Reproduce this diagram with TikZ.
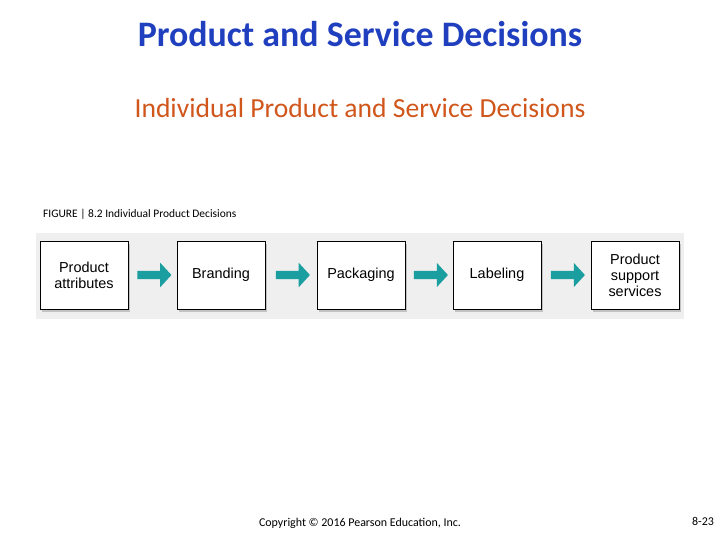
\documentclass[tikz,border=0pt]{standalone}
\usepackage{fontspec}
\setmainfont{Carlito}
\newfontfamily\boxfont{Liberation Sans}
\usetikzlibrary{shapes.arrows,shadows}
\definecolor{titleblue}{HTML}{1F3FBF}
\definecolor{suborange}{HTML}{D0561C}
\definecolor{arrowteal}{HTML}{1A9EA0}
\definecolor{panelgray}{HTML}{EFEFEF}
\begin{document}
\begin{tikzpicture}[x=1bp, y=-1bp, every node/.style={align=center}]
    \tikzstyle{stage}=[rectangle, draw, fill=white, minimum width=88bp, minimum height=68bp, font=\boxfont\fontsize{14.5}{16}\selectfont, drop shadow={shadow xshift=2bp, shadow yshift=-3bp, opacity=0.4}];
    \tikzstyle{flow}=[single arrow, fill=arrowteal, draw=none, minimum height=34bp, inner sep=4bp, single arrow head extend=8bp, single arrow tip angle=95];
    \useasboundingbox (0,0) rectangle (720,540);
    \node[font=\bfseries\fontsize{36}{42}\selectfont, text=titleblue] (title) at (360,34) {Product and Service Decisions};
    \node[font=\fontsize{27.7}{32}\selectfont, text=suborange] (subtitle) at (360,108) {Individual Product and Service Decisions};
    \node[anchor=west, font=\fontsize{11.5}{13}\selectfont, inner sep=0pt] (caption) at (43,214) {FIGURE | 8.2 Individual Product Decisions};
    \node[fill=panelgray, minimum width=648bp, minimum height=86bp, inner sep=0pt] (panel) at (360,276) {};
    \node[stage] (attributes) at (84,275) {Product\\attributes};
    \node[stage] (branding) at (221,275) {Branding};
    \node[stage] (packaging) at (361,275) {Packaging};
    \node[stage] (labeling) at (497,275) {Labeling};
    \node[stage] (support) at (635,275) {Product\\support\\services};
    \path (attributes) -- node[flow]{} (branding);
    \path (branding) -- node[flow]{} (packaging);
    \path (packaging) -- node[flow]{} (labeling);
    \path (labeling) -- node[flow]{} (support);
    \node[font=\fontsize{12}{14}\selectfont] (copyright) at (360,523) {Copyright © 2016 Pearson Education, Inc.};
    \node[font=\fontsize{12}{14}\selectfont] (page) at (703,521) {8-23};
\end{tikzpicture}
\end{document}
